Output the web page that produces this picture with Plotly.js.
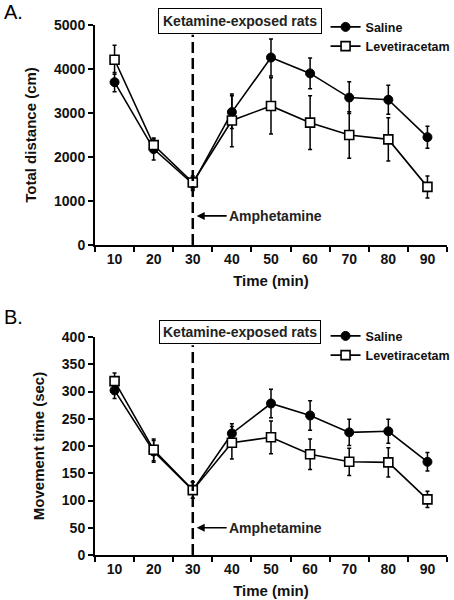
<!DOCTYPE html>
<html>
<head>
<meta charset="utf-8">
<script src="https://cdn.plot.ly/plotly-3.0.1.min.js"></script>
<style>
html,body{margin:0;padding:0;background:#fff;}
#chart{width:454px;height:600px;}
</style>
</head>
<body>
<div id="chart"></div>
<script>
// Categories (time, min)
const timeLabels = ["10","20","30","40","50","60","70","80","90"];

// Panel A: Total distance (cm)
const distSaline      = [3700, 2180, 1390, 3020, 4260, 3900, 3350, 3300, 2450];
const distSalineErr   = [220, 250, 150, 370, 420, 350, 360, 330, 250];
const distLevet       = [4210, 2270, 1420, 2830, 3160, 2780, 2500, 2400, 1320];
const distLevetErr    = [330, 140, 150, 600, 640, 610, 530, 490, 250];

// Panel B: Movement time (sec)
const moveSaline      = [302, 190, 119, 223, 278, 256, 225, 227, 171];
const moveSalineErr   = [15, 20, 15, 18, 26, 27, 24, 22, 17];
const moveLevet       = [319, 193, 119, 206, 216, 185, 171, 170, 102];
const moveLevetErr    = [15, 20, 15, 30, 30, 28, 25, 27, 15];

const seriesNames = ["Saline", "Levetiracetam"];

const FONT = "Arial, 'Liberation Sans', sans-serif";

function mkTrace(y, err, name, filled, xa, ya, legend) {
  return {
    type: "scatter", mode: "lines+markers",
    x: timeLabels, y: y, name: name,
    xaxis: xa, yaxis: ya, legend: legend, showlegend: true,
    line: {color: "#000", width: 1.6},
    marker: filled
      ? {symbol: "circle", size: 9, color: "#000", line: {color: "#000", width: 1}}
      : {symbol: "square", size: 9, color: "#fff", line: {color: "#000", width: 1.6}},
    error_y: {type: "data", array: err, visible: true, color: "#000", thickness: 1.5, width: 2}
  };
}

const data = [
  mkTrace(distSaline, distSalineErr, seriesNames[0], true, "x", "y", "legend"),
  mkTrace(distLevet, distLevetErr, seriesNames[1], false, "x", "y", "legend"),
  mkTrace(moveSaline, moveSalineErr, seriesNames[0], true, "x2", "y2", "legend2"),
  mkTrace(moveLevet, moveLevetErr, seriesNames[1], false, "x2", "y2", "legend2")
];

const titleFont = {family: FONT, size: 15, color: "#111", weight: "bold"};
const tickFont = {family: FONT, size: 14, color: "#111", weight: "bold"};

const xCommon = {
  type: "category", range: [-0.5, 8.5], tickson: "boundaries",
  showline: true, linecolor: "#000", linewidth: 2,
  ticks: "outside", ticklen: 5, tickwidth: 2, tickcolor: "#000",
  showgrid: false, zeroline: false,
  tickfont: tickFont,
  title: {text: "Time (min)", font: titleFont, standoff: 10}
};
const yCommon = {
  showline: true, linecolor: "#000", linewidth: 2,
  ticks: "outside", ticklen: 5, tickwidth: 2, tickcolor: "#000",
  showgrid: false, zeroline: false,
  tickfont: tickFont
};

const legendCommon = {
  xanchor: "left", yanchor: "top", bgcolor: "rgba(0,0,0,0)",
  font: {family: FONT, size: 12.5, color: "#111", weight: "bold"},
  tracegroupgap: 0, itemwidth: 30
};

const boxFont = {family: FONT, size: 14, color: "#222", weight: "bold"};
const amphFont = {family: FONT, size: 14, color: "#222", weight: "bold"};

const layout = {
  width: 454, height: 600,
  margin: {l: 95, r: 7, t: 25, b: 45, autoexpand: false},
  paper_bgcolor: "#fff", plot_bgcolor: "#fff",
  xaxis: Object.assign({}, xCommon, {anchor: "y", domain: [0, 1]}),
  yaxis: Object.assign({}, yCommon, {anchor: "x", domain: [0.585, 1], range: [0, 5000], dtick: 1000,
    title: {text: "Total distance (cm)", font: titleFont, standoff: 14}}),
  xaxis2: Object.assign({}, xCommon, {anchor: "y2", domain: [0, 1]}),
  yaxis2: Object.assign({}, yCommon, {anchor: "x2", domain: [0, 0.4113], range: [0, 400], dtick: 50,
    title: {text: "Movement time (sec)", font: titleFont, standoff: 14}}),
  legend: Object.assign({}, legendCommon, {x: 0.655, y: 1.024}),
  legend2: Object.assign({}, legendCommon, {x: 0.655, y: 0.441}),
  shapes: [
    {type: "line", xref: "x", yref: "y", x0: 2, x1: 2, y0: 0, y1: 4780,
     line: {color: "#000", width: 2.5, dash: "11px,5px"}},
    {type: "line", xref: "x2", yref: "y2", x0: 2, x1: 2, y0: 0, y1: 385,
     line: {color: "#000", width: 2.5, dash: "11px,5px"}}
  ],
  annotations: [
    {xref: "paper", yref: "paper", x: 0.412, y: 1.0075, yanchor: "middle", xanchor: "center",
     text: "Ketamine-exposed rats", showarrow: false,
     bordercolor: "#000", borderwidth: 1, borderpad: 4, bgcolor: "#fff", font: boxFont},
    {xref: "paper", yref: "paper", x: 0.412, y: 0.4208, yanchor: "middle", xanchor: "center",
     text: "Ketamine-exposed rats", showarrow: false,
     bordercolor: "#000", borderwidth: 1, borderpad: 3, bgcolor: "#fff", font: boxFont},
    {xref: "x", yref: "y", x: 2.1, y: 660, text: "Amphetamine", showarrow: true,
     ax: 30, ay: 0, xanchor: "left", arrowhead: 2, arrowsize: 1, arrowwidth: 1.6, arrowcolor: "#000",
     font: amphFont},
    {xref: "x2", yref: "y2", x: 2.1, y: 50, text: "Amphetamine", showarrow: true,
     ax: 30, ay: 0, xanchor: "left", arrowhead: 2, arrowsize: 1, arrowwidth: 1.6, arrowcolor: "#000",
     font: amphFont},
    {xref: "paper", yref: "paper", x: -0.264, y: 1.0245, xanchor: "left", yanchor: "middle",
     text: "A.", showarrow: false, font: {family: FONT, size: 20, color: "#000"}},
    {xref: "paper", yref: "paper", x: -0.264, y: 0.449, xanchor: "left", yanchor: "middle",
     text: "B.", showarrow: false, font: {family: FONT, size: 20, color: "#000"}}
  ]
};

Plotly.newPlot("chart", data, layout, {displayModeBar: false, staticPlot: true});
</script>
</body>
</html>
